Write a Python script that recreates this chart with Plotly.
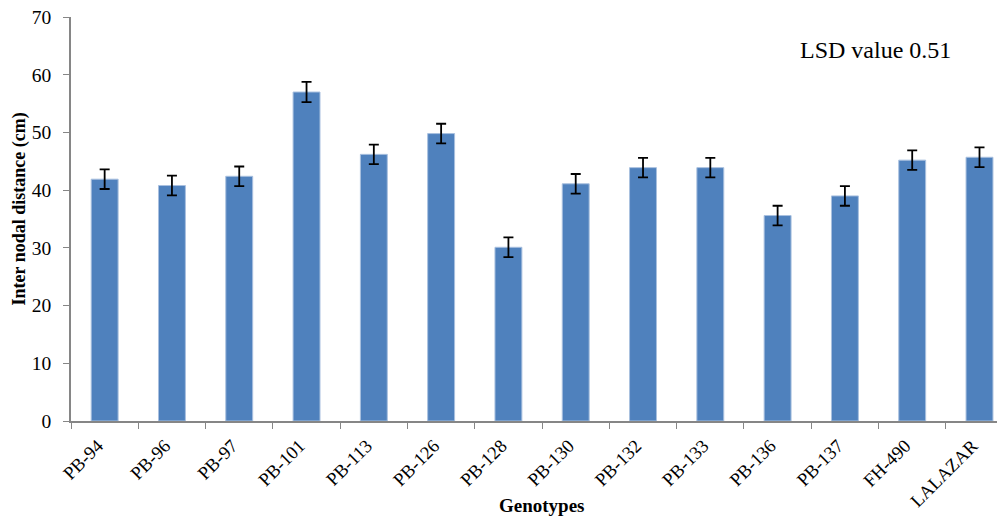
import plotly.graph_objects as go

# Inter nodal distance per genotype (cm) with error bar half-widths
genotypes = ["PB-94", "PB-96", "PB-97", "PB-101", "PB-113", "PB-126", "PB-128",
             "PB-130", "PB-132", "PB-133", "PB-136", "PB-137", "FH-490", "LALAZAR"]
distance = [41.9, 40.8, 42.4, 57.0, 46.2, 49.8, 30.1,
            41.1, 43.9, 43.9, 35.6, 39.0, 45.2, 45.7]
error = [1.7, 1.7, 1.7, 1.75, 1.7, 1.7, 1.7,
         1.7, 1.7, 1.7, 1.7, 1.7, 1.7, 1.7]

FONT = "'Liberation Serif', 'Times New Roman', serif"
AXIS_GREY = "#868686"

fig = go.Figure(
    go.Bar(
        x=genotypes,
        y=distance,
        marker=dict(color="#4F81BD", line=dict(color="#a9c0df", width=1)),
        error_y=dict(type="data", array=error, visible=True,
                     color="black", thickness=1.8, width=5),
        width=0.4,
    )
)

fig.update_layout(
    width=1006,
    height=519,
    margin=dict(l=71, r=9, t=17, b=98, autoexpand=False),
    paper_bgcolor="white",
    plot_bgcolor="white",
    showlegend=False,
    font=dict(family=FONT, size=19, color="black"),
    xaxis=dict(
        type="category",
        range=[-0.5, 13.26],
        automargin=False,
        showline=True,
        linecolor=AXIS_GREY,
        linewidth=1.5,
        ticks="outside",
        tickson="boundaries",
        ticklen=6,
        tickcolor=AXIS_GREY,
        tickangle=-45,
        ticklabelshift=-7,
        ticklabelstandoff=5,
        tickfont=dict(family=FONT, size=18.5, color="black"),
        showgrid=False,
        zeroline=False,
    ),
    yaxis=dict(
        range=[0, 70],
        dtick=10,
        automargin=False,
        showline=True,
        linecolor=AXIS_GREY,
        linewidth=1.5,
        ticks="outside",
        ticklen=6,
        tickcolor=AXIS_GREY,
        ticklabelstandoff=8,
        tickfont=dict(family=FONT, size=19.5, color="black"),
        showgrid=False,
        zeroline=False,
    ),
    annotations=[
        dict(text="LSD value 0.51", xref="paper", yref="paper",
             x=0.869, y=0.918, xanchor="center", yanchor="middle",
             showarrow=False, font=dict(family=FONT, size=24, color="black")),
        dict(text="<b>Genotypes</b>", xref="paper", yref="paper",
             x=0.5086, y=-0.208, xanchor="center", yanchor="middle",
             showarrow=False, font=dict(family=FONT, size=19, color="black")),
        dict(text="<b>Inter nodal distance (cm)</b>", xref="paper", yref="paper",
             x=-0.0551, y=0.526, xanchor="center", yanchor="middle",
             textangle=-90, showarrow=False,
             font=dict(family=FONT, size=18, color="black")),
    ],
)

fig.write_html("out.html")
